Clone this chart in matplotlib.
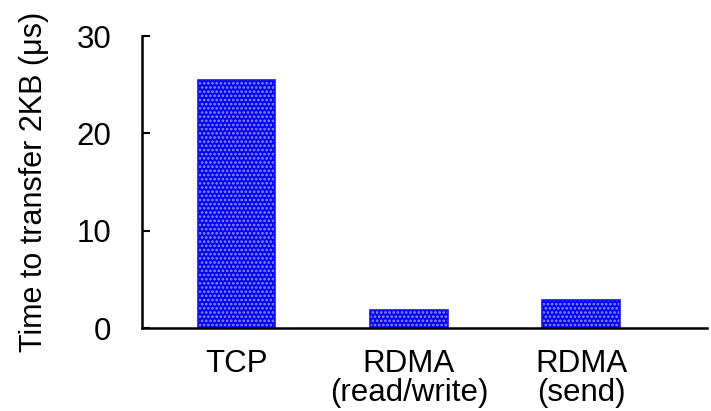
import matplotlib
matplotlib.use("Agg")
import matplotlib.pyplot as plt

categories = ["TCP", "RDMA\n(read/write)", "RDMA\n(send)"]
values = [25.5, 1.8, 2.9]
yticks = [0, 10, 20, 30]

plt.rcParams['font.family'] = ['Liberation Sans', 'DejaVu Sans']
plt.rcParams['hatch.linewidth'] = 1.3
plt.rcParams['hatch.color'] = '#9090ff'

fig = plt.figure(figsize=(7.11, 4.11), dpi=100)
ax = fig.add_axes([142/711, 1-328/411, (707-142)/711, (328-36)/411])

x = list(range(len(categories)))
ax.bar(x, values, width=0.45, color='#0000f0', edgecolor='#9090ff', hatch='....', linewidth=0)
ax.bar(x, values, width=0.45, fill=False, edgecolor='#1010ff', linewidth=1.2)

ax.set_xlim(-0.55, 2.73)
ax.set_ylim(0, 30)
ax.set_yticks(yticks)
ax.set_xticks(x)
ax.set_xticklabels(categories, fontsize=22.5, linespacing=0.95)
ax.tick_params(axis='x', length=0, pad=15)
ax.tick_params(axis='y', direction='in', length=6, width=1.5, pad=22, labelsize=22.5)
for s in ['top', 'right']:
    ax.spines[s].set_visible(False)
for s in ['left', 'bottom']:
    ax.spines[s].set_linewidth(1.8)
ax.set_ylabel("Time to transfer 2KB (μs)", fontsize=22, labelpad=20)

fig.savefig("out.png", dpi=100)
